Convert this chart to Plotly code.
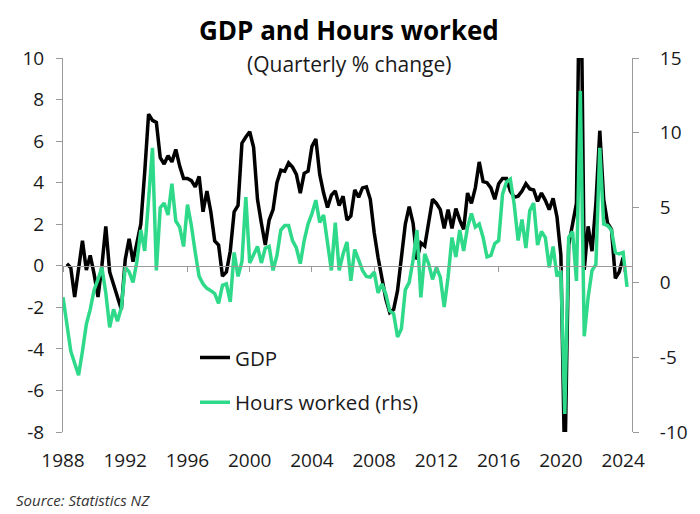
import plotly.graph_objects as go

# ---- data (quarterly) ----
hours_start = 1988.0   # 1988 Q1
gdp_start = 1988.25    # 1988 Q2

gdp = [0.1, -0.1, -1.5, 0.0, 1.2, -0.2, 0.5, -0.4, -1.5, 0.0, 1.9, -0.3, -0.9, -1.5, -2.1,
       0.3, 1.3, 0.2, 1.2, 2.0, 4.5, 7.3, 7.0, 6.9, 5.2, 4.9, 5.3, 5.0, 5.6, 4.8, 4.2, 4.2,
       4.1, 3.8, 4.3, 2.6, 3.6, 2.6, 1.2, 1.0, -0.5, -0.3, 0.7, 2.6, 2.9, 5.9, 6.2, 6.45,
       5.7, 3.2, 2.05, 1.0, 2.2, 2.7, 4.0, 4.6, 4.55, 4.95, 4.75, 4.4, 3.5, 4.45, 4.55, 5.75,
       6.1, 4.4, 3.5, 2.8, 3.4, 3.6, 2.9, 3.35, 2.2, 2.4, 3.65, 3.3, 3.75, 3.8, 3.2, 1.6,
       0.4, -0.7, -1.6, -2.25, -2.1, -1.2, 0.5, 2.0, 2.85, 2.05, 0.3, 1.1, 0.95, 2.0, 3.2, 3.0,
       2.7, 1.8, 2.7, 1.8, 2.75, 2.2, 1.75, 3.5, 3.0, 3.75, 5.0, 4.05, 4.0, 3.75, 3.2, 3.95,
       4.2, 4.2, 3.6, 3.3, 3.35, 3.6, 3.95, 3.7, 3.65, 3.1, 3.5, 3.15, 2.7, 3.25, 2.35, 0.5,
       -10.0, 1.0, 1.9, 3.0, 17.0, -0.2, 1.9, 0.7, 3.0, 6.5, 3.2, 2.05, 1.75, -0.6, -0.3, 0.4]

hours = [-1.0, -3.0, -4.6, -5.4, -6.2, -4.6, -2.8, -1.8, -0.5, 0.2, 1.0, -0.7, -3.0, -1.8, -2.6,
         -1.7, 1.0, 0.7, 0.0, 1.4, 3.5, 2.1, 5.5, 9.0, 0.8, 5.0, 5.3, 4.5, 6.6, 4.1, 3.7, 2.4,
         5.2, 3.8, 2.0, 0.4, -0.1, -0.4, -0.55, -0.75, -1.4, -0.2, -0.1, -1.3, 2.0, 0.4, 1.4, 5.7,
         1.3, 1.8, 2.4, 1.3, 2.3, 2.4, 0.8, 1.8, 3.5, 3.8, 3.8, 2.8, 2.3, 1.25, 2.8, 3.9,
         4.6, 5.5, 4.0, 4.5, 2.7, 0.8, 4.0, 0.8, 1.9, 2.7, 0.1, 2.2, 1.5, 0.8, 0.4, 0.35,
         0.7, -0.7, -0.1, -0.8, -1.9, -2.1, -3.65, -3.1, -0.5, 0.0, 1.5, 3.5, -1.0, 1.9, 1.25, 0.2,
         1.0, 0.35, -1.65, 0.35, 3.0, 1.7, 3.5, 2.1, 3.7, 4.6, 3.7, 3.9, 3.0, 1.7, 1.8, 2.6,
         2.8, 5.9, 6.7, 6.9, 5.2, 2.8, 4.2, 2.3, 4.8, 5.3, 2.5, 3.4, 3.0, 1.0, 2.4, 0.4,
         0.8, -8.8, 3.0, 3.4, 0.1, 12.8, -3.6, -1.0, 0.8, 1.2, 9.0, 3.9, 3.8, 3.5, 2.0, 1.9,
         2.0, -0.3]

year_ticks = list(range(1988, 2025, 4))
left_ticks = list(range(-8, 11, 2))
left_labels = [str(v) for v in left_ticks]       # plain hyphen minus, as in the source
right_ticks = list(range(-10, 16, 5))
right_labels = [str(v) for v in right_ticks]

gdp_x = [gdp_start + 0.25 * i for i in range(len(gdp))]
hours_x = [hours_start + 0.25 * i for i in range(len(hours))]

BLACK = "#000000"
GREEN = "#2fd98a"
AXIS = "#9a9a9a"
FONT = "Open Sans"

fig = go.Figure()
fig.add_trace(go.Scatter(x=gdp_x, y=gdp, mode="lines", name="GDP",
                         line=dict(color=BLACK, width=3.5), legendgroup="a"))
fig.add_trace(go.Scatter(x=hours_x, y=hours, mode="lines", name="Hours worked (rhs)",
                         line=dict(color=GREEN, width=3.5), yaxis="y2", legendgroup="b"))
# helper (empty) trace so the zero-line axis with ticks is drawn
fig.add_trace(go.Scatter(x=[None], y=[None], xaxis="x2", yaxis="y", showlegend=False,
                         hoverinfo="skip"))

# the page body adds an 8px margin, so the figure is 8px smaller than the window
fig.update_layout(
    width=692, height=506,
    margin=dict(l=55, r=56, t=50, b=82),
    plot_bgcolor="white", paper_bgcolor="white",
    font=dict(family=FONT, color="#1a1a1a", size=19),
    showlegend=True,
    legend=dict(x=0.232, y=0.252, xanchor="left", yanchor="top",
                bgcolor="rgba(0,0,0,0)", font=dict(size=20.5, color="#1a1a1a"),
                tracegroupgap=15, traceorder="grouped"),
    xaxis=dict(range=[1988, 2024.57], tickvals=year_ticks, showline=False, ticks="",
               showgrid=False, zeroline=False, ticklabelstandoff=15,
               tickfont=dict(size=19)),
    xaxis2=dict(range=[1988, 2024.57], overlaying="x", anchor="free", position=8 / 18,
                tickvals=year_ticks, showticklabels=False, showline=True, linecolor=AXIS,
                linewidth=1, ticks="outside", ticklen=5, tickcolor=AXIS, showgrid=False,
                zeroline=False),
    yaxis=dict(range=[-8, 10], tickvals=left_ticks, ticktext=left_labels, showline=True,
               linecolor=AXIS, linewidth=1, ticks="outside", ticklen=6, tickcolor=AXIS,
               showgrid=False, zeroline=False, ticklabelstandoff=8, tickfont=dict(size=19)),
    yaxis2=dict(range=[-10, 15], tickvals=right_ticks, ticktext=right_labels,
                overlaying="y", side="right", showline=True, linecolor=AXIS, linewidth=1,
                ticks="outside", ticklen=6, tickcolor=AXIS, showgrid=False, zeroline=False,
                ticklabelstandoff=17, tickfont=dict(size=19)),
    annotations=[
        dict(text="<b>GDP and Hours worked</b>", x=0.5026, y=1.076, xref="paper",
             yref="paper", xanchor="center", yanchor="middle", showarrow=False,
             font=dict(size=26, color="#000000")),
        dict(text="(Quarterly % change)", x=0.5026, y=0.983, xref="paper", yref="paper",
             xanchor="center", yanchor="middle", showarrow=False,
             font=dict(size=21, color="#1a1a1a")),
        dict(text="<i>Source: Statistics NZ</i>", x=-0.086, y=-0.182, xref="paper",
             yref="paper", xanchor="left", yanchor="middle", showarrow=False,
             font=dict(size=15, color="#333333")),
    ],
)

fig.write_html("out.html")
